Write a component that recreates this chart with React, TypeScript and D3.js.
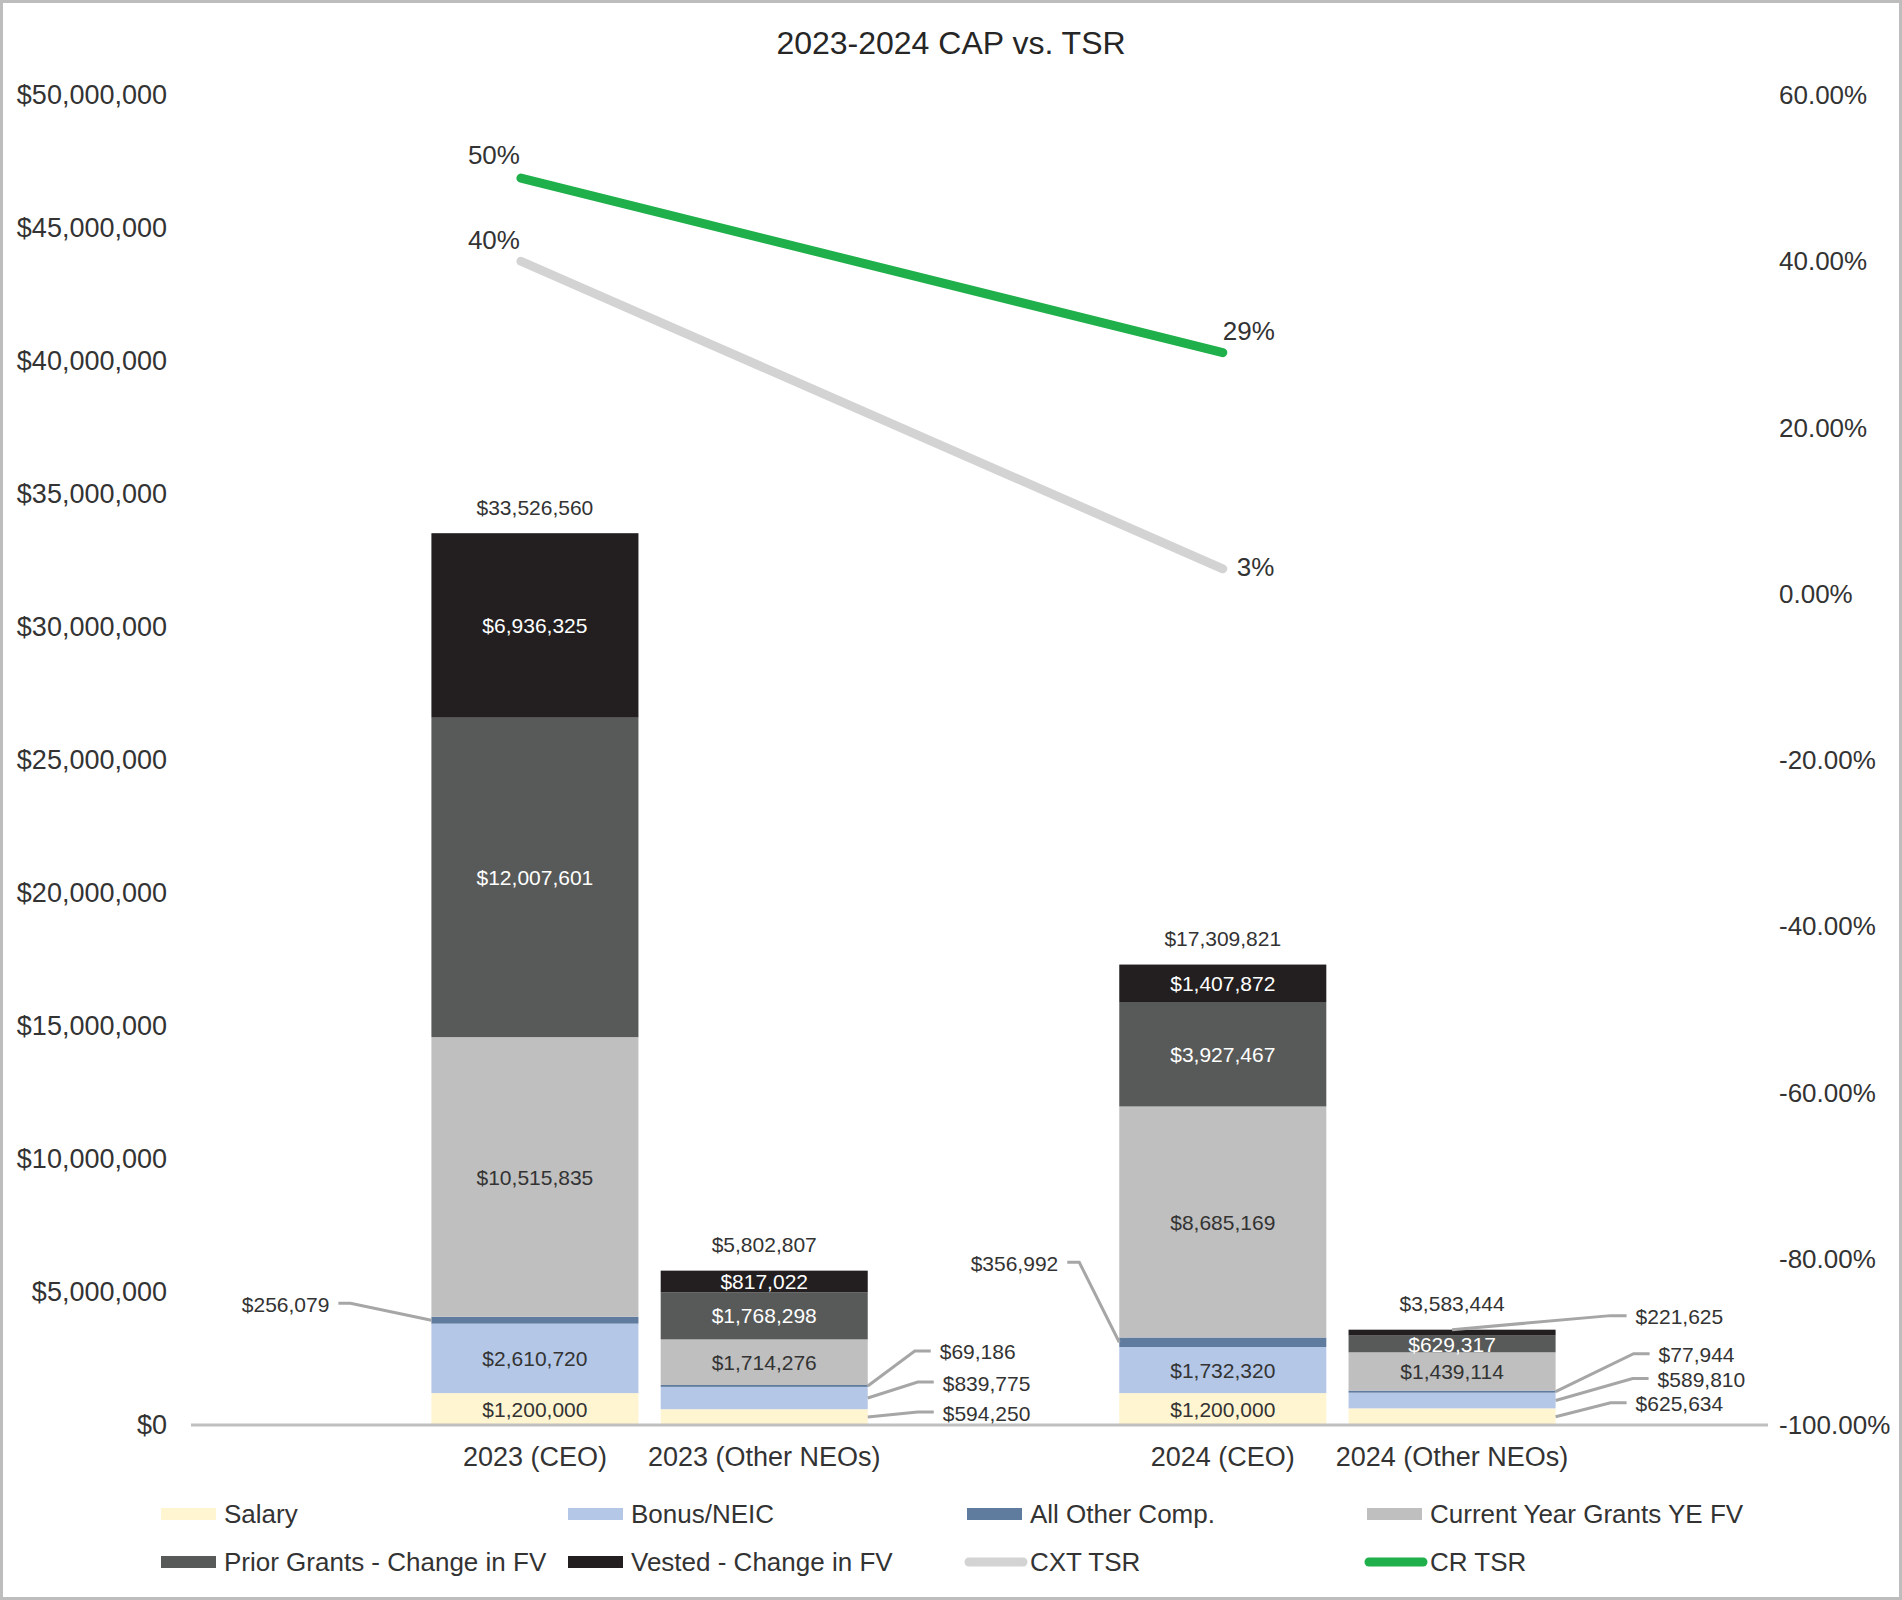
import React, { useEffect, useRef } from "react";
import * as d3 from "d3";

// x slots as laid out in the source sheet (blank rows make the gaps)
const slots = ["", "2023 (CEO)", "2023 (Other NEOs)", " ", "2024 (CEO)", "2024 (Other NEOs)", "  "];
const categories = ["2023 (CEO)", "2023 (Other NEOs)", "2024 (CEO)", "2024 (Other NEOs)"];

const seriesNames = [
  "Salary",
  "Bonus/NEIC",
  "All Other Comp.",
  "Current Year Grants YE FV",
  "Prior Grants - Change in FV",
  "Vested - Change in FV",
];
const salary = [1200000, 594250, 1200000, 625634];
const bonus = [2610720, 839775, 1732320, 589810];
const allOther = [256079, 69186, 356992, 77944];
const currentGrants = [10515835, 1714276, 8685169, 1439114];
const priorGrants = [12007601, 1768298, 3927467, 629317];
const vested = [6936325, 817022, 1407872, 221625];
const totals = [33526560, 5802807, 17309821, 3583444];

const tsrPoints = ["2023 (CEO)", "2024 (CEO)"];
const cxtTsr = [0.4, 0.03];
const crTsr = [0.5, 0.29];

const leftTicks = [0, 5e6, 10e6, 15e6, 20e6, 25e6, 30e6, 35e6, 40e6, 45e6, 50e6];
const rightTicks = [-1, -0.8, -0.6, -0.4, -0.2, 0, 0.2, 0.4, 0.6];

const barColors = ["#FFF5D1", "#B4C7E7", "#5F7B9D", "#BFBFBF", "#585A59", "#231F20"];
const labelColors = ["#333", "#333", "#333", "#333", "#fff", "#fff"];

// labels pulled out of the bars, with leader lines
const callouts = [
  { cat: 0, s: 2, side: "left", dx: -102, dy: -16 },
  { cat: 1, s: 2, side: "right", dx: 72, dy: -34 },
  { cat: 1, s: 1, side: "right", dx: 75, dy: -15 },
  { cat: 1, s: 0, side: "right", dx: 75, dy: -4 },
  { cat: 2, s: 2, side: "left", dx: -61, dy: -79 },
  { cat: 3, s: 5, side: "top", dx: 80, dy: -16 },
  { cat: 3, s: 2, side: "right", dx: 103, dy: -37 },
  { cat: 3, s: 1, side: "right", dx: 102, dy: -21 },
  { cat: 3, s: 0, side: "right", dx: 80, dy: -13 },
];

const FONT = "'Liberation Sans', Arial, sans-serif";
const TEXT = "#333";

const App: React.FC = () => {
  const svgRef = useRef<SVGSVGElement>(null);

  useEffect(() => {
    const width = 1902;
    const height = 1600;
    const svg = d3.select(svgRef.current);
    svg.selectAll("*").remove();

    svg
      .append("rect")
      .attr("x", 1.5)
      .attr("y", 1.5)
      .attr("width", width - 3)
      .attr("height", height - 3)
      .attr("fill", "#fff")
      .attr("stroke", "#BDBDBD")
      .attr("stroke-width", 3);

    const x = d3
      .scaleBand<string>()
      .domain(slots)
      .range([191, 1796])
      .paddingInner(0.097)
      .paddingOuter(0.0485);
    const y = d3.scaleLinear().domain([0, 50000000]).range([1425, 95]);
    const y2 = d3.scaleLinear().domain([-1, 0.6]).range([1425, 95]);

    const fmt = (v: number) => "$" + d3.format(",")(v);
    const pct = (v: number) => d3.format(".2%")(v).replace("\u2212", "-");

    // title
    svg
      .append("text")
      .attr("x", width / 2)
      .attr("y", 54)
      .attr("text-anchor", "middle")
      .attr("font-family", FONT)
      .attr("font-size", 32)
      .attr("fill", "#262626")
      .text("2023-2024 CAP vs. TSR");

    // left axis labels
    svg
      .append("g")
      .selectAll("text")
      .data(leftTicks)
      .enter()
      .append("text")
      .attr("x", 167)
      .attr("y", (d) => y(d))
      .attr("dy", "0.35em")
      .attr("text-anchor", "end")
      .attr("font-family", FONT)
      .attr("font-size", 27)
      .attr("fill", TEXT)
      .text((d) => fmt(d));

    // right axis labels
    svg
      .append("g")
      .selectAll("text")
      .data(rightTicks)
      .enter()
      .append("text")
      .attr("x", 1779)
      .attr("y", (d) => y2(d))
      .attr("dy", "0.35em")
      .attr("text-anchor", "start")
      .attr("font-family", FONT)
      .attr("font-size", 26)
      .attr("fill", TEXT)
      .text((d) => pct(d));

    // stacked bars
    const series = [salary, bonus, allOther, currentGrants, priorGrants, vested];
    const rows = categories.map((c, i) => {
      const r: any = { category: c };
      seriesNames.forEach((n, s) => (r[n] = series[s][i]));
      return r;
    });
    const stacked = d3.stack<any>().keys(seriesNames)(rows);

    const bars = svg.append("g");
    stacked.forEach((layer, s) => {
      bars
        .append("g")
        .attr("fill", barColors[s])
        .selectAll("rect")
        .data(layer)
        .enter()
        .append("rect")
        .attr("x", (d) => x(d.data.category)!)
        .attr("y", (d) => y(d[1]))
        .attr("width", x.bandwidth())
        .attr("height", (d) => y(d[0]) - y(d[1]));
    });

    // axis line
    svg
      .append("line")
      .attr("x1", 191)
      .attr("x2", 1768)
      .attr("y1", y(0))
      .attr("y2", y(0))
      .attr("stroke", "#BFBFBF")
      .attr("stroke-width", 3);

    // inside labels
    const labels = svg.append("g").attr("font-family", FONT).attr("font-size", 21);
    stacked.forEach((layer, s) => {
      layer.forEach((d, i) => {
        if (callouts.some((c) => c.cat === i && c.s === s)) return;
        labels
          .append("text")
          .attr("x", x(d.data.category)! + x.bandwidth() / 2)
          .attr("y", (y(d[0]) + y(d[1])) / 2)
          .attr("dy", "0.36em")
          .attr("text-anchor", "middle")
          .attr("fill", labelColors[s])
          .text(fmt(series[s][i]));
      });
    });

    // callout labels with leader lines
    callouts.forEach((c) => {
      const d = stacked[c.s][c.cat];
      const cat = categories[c.cat];
      const left = x(cat)!;
      const right = left + x.bandwidth();
      const midY = (y(d[0]) + y(d[1])) / 2;
      let ax = c.side === "left" ? left : right;
      if (c.side === "top") ax = left + x.bandwidth() / 2;
      const edge = c.side === "left" ? left : right;
      const tx = edge + c.dx;
      const ty = midY + c.dy;
      const isLeft = c.side === "left";
      const stubNear = isLeft ? tx + 9 : tx - 9;
      const stubFar = isLeft ? tx + 21 : tx - 25;
      svg
        .append("polyline")
        .attr("points", `${stubNear},${ty - 1} ${stubFar},${ty - 1} ${ax},${c.side === "top" ? y(d[1]) : midY}`)
        .attr("fill", "none")
        .attr("stroke", "#A6A6A6")
        .attr("stroke-width", 3);
      labels
        .append("text")
        .attr("x", tx)
        .attr("y", ty)
        .attr("dy", "0.36em")
        .attr("text-anchor", isLeft ? "end" : "start")
        .attr("fill", TEXT)
        .text(fmt(series[c.s][c.cat]));
    });

    // totals
    labels
      .selectAll(".total")
      .data(categories)
      .enter()
      .append("text")
      .attr("class", "total")
      .attr("x", (c) => x(c)! + x.bandwidth() / 2)
      .attr("y", (c, i) => y(totals[i]) - 26)
      .attr("dy", "0.36em")
      .attr("text-anchor", "middle")
      .attr("fill", TEXT)
      .text((c, i) => fmt(totals[i]));

    // category labels
    svg
      .append("g")
      .selectAll("text")
      .data(categories)
      .enter()
      .append("text")
      .attr("x", (c) => x(c)! + x.bandwidth() / 2)
      .attr("y", 1466)
      .attr("text-anchor", "middle")
      .attr("font-family", FONT)
      .attr("font-size", 27)
      .attr("fill", TEXT)
      .text((c) => c);

    // TSR lines
    const px = (i: number) => x(tsrPoints[i])! + x.bandwidth() / 2 - (i === 0 ? 14 : 0);
    const line = d3
      .line<number>()
      .x((d, i) => px(i))
      .y((d) => y2(d));

    const lineSeries = [
      { values: cxtTsr, color: "#D3D3D3", labels: [{ anchor: "end", dx: -1, dy: -12 }, { anchor: "start", dx: 14, dy: 7 }] },
      { values: crTsr, color: "#1FB04B", labels: [{ anchor: "end", dx: -1, dy: -14 }, { anchor: "start", dx: 0, dy: -13 }] },
    ];
    lineSeries.forEach((ls) => {
      svg
        .append("path")
        .datum(ls.values)
        .attr("fill", "none")
        .attr("stroke", ls.color)
        .attr("stroke-width", 9)
        .attr("stroke-linecap", "round")
        .attr("d", line);
      ls.values.forEach((v, i) => {
        svg
          .append("text")
          .attr("x", px(i) + ls.labels[i].dx)
          .attr("y", y2(v) + ls.labels[i].dy)
          .attr("text-anchor", ls.labels[i].anchor)
          .attr("font-family", FONT)
          .attr("font-size", 26)
          .attr("fill", TEXT)
          .text(d3.format(".0%")(v));
      });
    });

    // legend
    const legendItems = [
      ...seriesNames.map((n, s) => ({ name: n, color: barColors[s], kind: "bar" })),
      { name: "CXT TSR", color: "#D3D3D3", kind: "line" },
      { name: "CR TSR", color: "#1FB04B", kind: "line" },
    ];
    const colX = [161, 568, 967, 1367];
    const rowY = [1514, 1562];
    const legend = svg.append("g").attr("font-family", FONT).attr("font-size", 26);
    legendItems.forEach((item, k) => {
      const lx = colX[k % 4];
      const ly = rowY[Math.floor(k / 4)];
      if (item.kind === "bar") {
        legend
          .append("rect")
          .attr("x", lx)
          .attr("y", ly - 6)
          .attr("width", 55)
          .attr("height", 12)
          .attr("fill", item.color);
      } else {
        legend
          .append("line")
          .attr("x1", lx + 2)
          .attr("x2", lx + 56)
          .attr("y1", ly)
          .attr("y2", ly)
          .attr("stroke", item.color)
          .attr("stroke-width", 9)
          .attr("stroke-linecap", "round");
      }
      legend
        .append("text")
        .attr("x", lx + 63)
        .attr("y", ly + 9)
        .attr("fill", TEXT)
        .text(item.name);
    });
  }, []);

  return (
    <div style={{ position: "absolute", left: 0, top: 0 }}>
      <svg ref={svgRef} width={1902} height={1600} style={{ display: "block" }}></svg>
    </div>
  );
};

export default App;
